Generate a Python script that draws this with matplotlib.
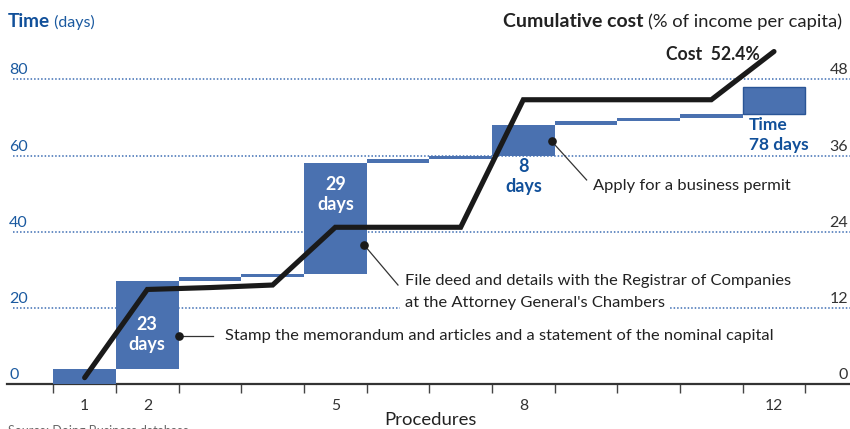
import numpy as np
import matplotlib
matplotlib.use("Agg")
import matplotlib.pyplot as plt

plt.rcParams['font.family'] = ['Lato', 'DejaVu Sans']

# ---------------- data ----------------
procedures = [1, 2, 3, 4, 5, 6, 7, 8, 9, 10, 11, 12]
duration_days = [4, 23, 1, 1, 29, 1, 1, 8, 1, 1, 1, 7]
cumulative_cost = [1.0, 14.9, 15.2, 15.6, 24.7, 24.7, 24.7, 44.8, 44.8, 44.8, 44.8, 52.4]
time_ticks = [20, 40, 60, 80]
time_tick_labels = ['0', '20', '40', '60', '80']
cost_tick_labels = ['0', '12', '24', '36', '48']
labelled_procedures = [1, 2, 5, 8, 12]
labelled_procedure_text = ['1', '2', '5', '8', '12']
total_days = 78
total_cost = 52.4
note_stamp = "Stamp the memorandum and articles and a statement of the nominal capital"
note_file_1 = "File deed and details with the Registrar of Companies"
note_file_2 = "at the Attorney General's Chambers"
note_permit = "Apply for a business permit"

# ---------------- style ----------------
BAR_BLUE = '#4a71b0'
TXT_BLUE = '#1b5aa0'
BOLD_BLUE = '#11509a'
GRID_BLUE = '#3d6db3'
DARK = '#222222'

durations = np.array(duration_days)
starts = np.cumsum(durations) - durations

fig = plt.figure(figsize=(8.5, 4.29), dpi=100)
ax = fig.add_axes([7 / 850, 45 / 429, 843 / 850, 380.7 / 429])
ax.set_xlim(-0.239, 13.213)
ax.set_ylim(0, 100)
ax2 = ax.twinx()
ax2.set_ylim(0, 100 * 0.6)

for a in (ax, ax2):
    for s in ('top', 'left', 'right', 'bottom'):
        a.spines[s].set_visible(False)
    a.set_yticks([])
    a.patch.set_visible(False)
ax.spines['bottom'].set_visible(True)
ax.spines['bottom'].set_linewidth(1.6)
ax.spines['bottom'].set_color('#333333')

# grid
ax.hlines(time_ticks, -0.143, 13.213, colors=GRID_BLUE, linewidth=1.1,
          linestyles=(0, (1, 1.3)), zorder=1)

# bars
bars = ax.bar(procedures, durations, bottom=starts, width=1.0, color=BAR_BLUE,
              zorder=3, linewidth=0)
bars[-1].set_edgecolor('#2a5596')
bars[-1].set_linewidth(1.0)

# cost line
ax2.plot(procedures, cumulative_cost, color='#1a1a1a', lw=3.7,
         solid_capstyle='round', solid_joinstyle='miter', zorder=5)

# x ticks
edges = np.arange(0.5, len(procedures) + 1, 1.0)
ax.set_xticks(edges)
ax.tick_params(axis='x', which='major', length=6.5, width=1.0, color='#444444',
               labelbottom=False)
ax.set_xticks(labelled_procedures, minor=True)
ax.set_xticklabels(labelled_procedure_text, minor=True)
ax.tick_params(axis='x', which='minor', length=0, pad=10.5, labelsize=11.3,
               labelcolor='#333333')

# left labels
for v, lab in zip([0] + time_ticks, time_tick_labels):
    ax.annotate(lab, xy=(0, v), xycoords=('axes fraction', 'data'),
                xytext=(2, 5), textcoords='offset pixels', ha='left',
                va='baseline', fontsize=11.5, color=TXT_BLUE)
# right labels
for v, lab in zip([0] + [t * 0.6 for t in time_ticks], cost_tick_labels):
    ax2.annotate(lab, xy=(1, v), xycoords=('axes fraction', 'data'),
                 xytext=(-2, 5), textcoords='offset pixels', ha='right',
                 va='baseline', fontsize=11.5, color='#333333')

# titles
t1 = fig.text(8 / 850, 1 - 27 / 429, 'Time', fontsize=13.7, fontweight='bold',
              color=BOLD_BLUE, ha='left', va='baseline')
ax.annotate(' (days)', xy=(1, 0), xycoords=t1, xytext=(0, 0),
            textcoords='offset pixels', ha='left', va='bottom',
            fontsize=11.5, color=TXT_BLUE)
t2 = fig.text(842 / 850, 1 - 27 / 429, '(% of income per capita)', fontsize=13.2,
              color=DARK, ha='right', va='baseline')
ax.annotate('Cumulative cost ', xy=(0, 0), xycoords=t2, ha='right', va='bottom',
            fontsize=14.0, fontweight='bold', color=DARK)

# cost label
ax2.annotate(f'Cost  {total_cost}%', xy=(procedures[-1], total_cost),
             xycoords='data', xytext=(-108, -3), textcoords='offset pixels',
             ha='left', va='center', fontsize=12.7, fontweight='bold', color=DARK)

# time total label
ax.text(procedures[-1] - 0.4, starts[-1] - 0.8, f'Time\n{total_days} days',
        ha='left', va='top', fontsize=12.5, fontweight='bold', color=BOLD_BLUE,
        linespacing=1.3, zorder=6)

# in-bar labels
ax.text(2, 13.1, f'{duration_days[1]}\ndays', ha='center', va='center',
        fontsize=13, fontweight='bold', color='white', linespacing=1.2, zorder=6)
ax.text(5, 49.8, f'{duration_days[4]}\ndays', ha='center', va='center',
        fontsize=13, fontweight='bold', color='white', linespacing=1.2, zorder=6)
ax.text(8, 54.6, f'{duration_days[7]}\ndays', ha='center', va='center',
        fontsize=13, fontweight='bold', color=BOLD_BLUE, linespacing=1.2, zorder=6)

# annotations
def dot_note(x0, y0, x1, y1):
    ax.plot([x0, x1], [y0, y1], color='#333333', lw=0.9, zorder=6)
    ax.plot([x0], [y0], 'o', color='#1a1a1a', ms=5.2, zorder=7)

dot_note(2.5, 12.6, 3.05, 12.6)
ax.text(3.24, 12.6, note_stamp, ha='left', va='center', fontsize=11.85,
        color=DARK, zorder=6)

dot_note(5.46, 36.5, 6.0, 26.0)
ax.text(6.11, 27.0, note_file_1, ha='left', va='center', fontsize=11.85,
        color=DARK, zorder=7,
        bbox=dict(boxstyle='square,pad=0.2', fc='white', ec='none'))
ax.text(6.11, 21.3, note_file_2, ha='left', va='center', fontsize=11.85,
        color=DARK, zorder=6,
        bbox=dict(boxstyle='square,pad=0.3', fc='white', ec='none'))

dot_note(8.45, 63.8, 9.01, 53.6)
ax.text(9.11, 52.0, note_permit, ha='left', va='center', fontsize=11.85,
        color=DARK, zorder=6)

# x label & source
fig.text(430 / 850, 1 - 420 / 429, 'Procedures', ha='center', va='center',
         fontsize=13.3, color=DARK)
fig.text(8 / 850, 1 - 425 / 429, 'Source: Doing Business database.', ha='left',
         va='top', fontsize=9, color='#666666')

fig.savefig('out.png', dpi=100)
